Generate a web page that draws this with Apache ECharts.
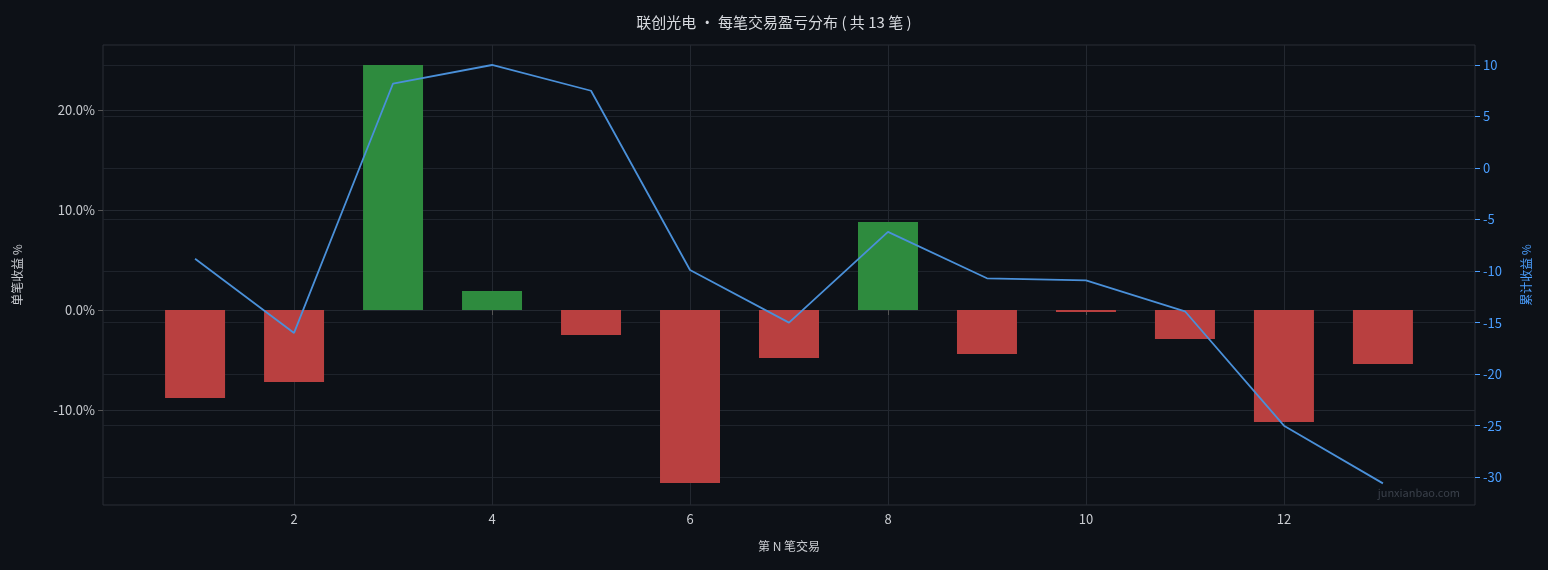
<!DOCTYPE html>
<html><head><meta charset="utf-8">
<script src="https://cdn.jsdelivr.net/npm/echarts@6/dist/echarts.min.js"></script>
<style>html,body{margin:0;background:#0d1117}#c{width:1548px;height:570px}</style></head>
<body><div id="c"></div>
<script>
const trades = [1,2,3,4,5,6,7,8,9,10,11,12,13];
const tradeReturns = [-8.8,-7.2,24.5,1.9,-2.5,-17.3,-4.8,8.8,-4.4,-0.2,-2.9,-11.2,-5.4];
const cumReturns = [-8.8,-16.0,8.2,10.0,7.5,-9.9,-15.0,-6.2,-10.7,-10.9,-13.9,-25.0,-30.6];
const xTicks = [2,4,6,8,10,12];
const leftTicks = [-10,0,10,20];
const rightTicks = [-30,-25,-20,-15,-10,-5,0,5,10];

const chart = echarts.init(document.getElementById('c'));
const font = '"Noto Sans CJK SC","Noto Sans",sans-serif';
chart.setOption({
  backgroundColor:'#0d1117',
  textStyle:{fontFamily:font},
  title:{text:'联创光电 · 每笔交易盈亏分布 ( 共 13 笔 )',left:'center',top:10,
    textStyle:{color:'#d6d9de',fontSize:15,fontWeight:'normal',fontFamily:font}},
  grid:{left:103,right:73,top:45,bottom:65,show:true,borderColor:'#2a2f37',borderWidth:1,backgroundColor:'transparent'},
  graphic:[{type:'text',right:88,bottom:72,style:{text:'junxianbao.com',fill:'#3a404a',fontSize:11,fontFamily:font}}],
  xAxis:{type:'value',min:0.07,max:13.93,name:'第 N 笔交易',nameLocation:'middle',nameGap:35,
    nameTextStyle:{color:'#c9ccd1',fontSize:12},
    axisLine:{show:false},
    axisTick:{show:true,customValues:xTicks,lineStyle:{color:'#555'}},
    axisLabel:{customValues:xTicks,color:'#c9ccd1',fontSize:13},
    splitLine:{show:true,lineStyle:{color:'#232830'}}},
  yAxis:[{type:'value',min:-19.5,max:26.5,name:'单笔收益 %',nameLocation:'middle',nameGap:80,
    nameTextStyle:{color:'#c9ccd1',fontSize:12},
    axisLine:{show:false},
    axisTick:{show:true,customValues:leftTicks,lineStyle:{color:'#555'}},
    axisLabel:{customValues:leftTicks,color:'#c9ccd1',fontSize:13,formatter:v=>v.toFixed(1)+'%'},
    splitLine:{show:true,lineStyle:{color:'#232830'}}},
   {type:'value',min:-32.7,max:11.94,name:'累计收益 %',nameLocation:'middle',nameGap:45,
    nameTextStyle:{color:'#4a9eff',fontSize:12},
    axisLine:{show:false},
    axisTick:{show:true,customValues:rightTicks,lineStyle:{color:'#4a9eff'}},
    axisLabel:{customValues:rightTicks,color:'#4a9eff',fontSize:13},
    splitLine:{show:true,lineStyle:{color:'#1e232b'}}}],
  series:[{type:'bar',data:trades.map((t,i)=>[t,tradeReturns[i]]),barWidth:60,
    itemStyle:{color:p=>p.value[1]>=0?'#2e8b3e':'#b94040'}},
   {type:'line',yAxisIndex:1,data:trades.map((t,i)=>[t,cumReturns[i]]),showSymbol:false,
    lineStyle:{color:'#4a90d9',width:1.8},z:5}]
});
</script></body></html>
